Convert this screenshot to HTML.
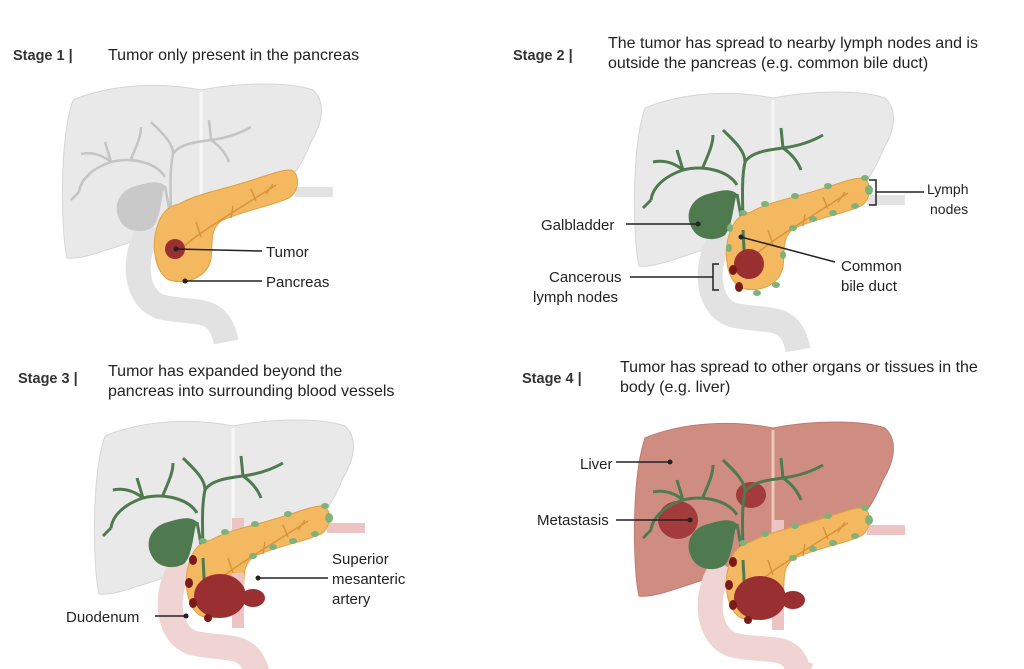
<!DOCTYPE html>
<html><head><meta charset="utf-8"><style>
html,body{margin:0;padding:0;background:#fff;}
svg{display:block}
text{font-family:"Liberation Sans",sans-serif;fill:#222;}
.t{font-size:16px}
.s{font-size:14.5px;font-weight:bold;fill:#333}
.l{font-size:15px}
</style></head><body>
<svg width="1024" height="669" viewBox="0 0 1024 669" xmlns="http://www.w3.org/2000/svg">
<defs>
<path id="liver" d="M12,18 C50,2 100,0 140,8 C180,0 230,0 252,8 C265,20 262,40 250,60 C240,85 225,108 205,114 L150,116 C120,125 95,150 70,160 C45,168 20,178 6,176 C0,150 -2,60 12,18 Z"/>
<path id="duo" d="M92,145 C72,165 70,215 100,225 C135,233 158,222 165,260" fill="none"/>
<path id="panc" d="M96,145 C100,130 108,124 118,122 C135,112 160,108 185,100 C205,94 218,88 230,88 C240,92 238,110 228,116 C210,124 185,128 162,138 C148,146 152,162 150,177 C146,196 125,203 108,198 C94,190 90,165 96,145 Z"/>
<path id="gb" d="M60,140 C50,125 58,108 75,104 C88,100 98,98 104,104 C100,115 100,135 92,145 C82,152 66,150 60,140 Z"/>
<path id="tree" d="M112,178 L110,140 C108,125 106,115 104,104 M110,140 C110,115 108,90 112,72 C118,62 135,60 150,58 M150,58 C165,56 178,52 190,45 M150,58 C160,65 165,72 168,80 M150,58 L148,38 M112,72 C112,60 100,50 90,40 M104,95 C95,80 70,75 50,80 C35,85 20,95 18,110 M50,80 C40,72 30,70 20,72 M50,80 L44,60 M18,110 L10,118 M70,77 C75,65 80,55 80,45" fill="none"/>
<path id="duct" d="M115,172 C130,155 160,138 215,103 M140,155 L135,140 M170,136 L172,124 M195,119 L190,107 M205,112 L212,102" fill="none"/>
</defs>

<!-- TITLES -->
<text class="s" x="13" y="60">Stage 1 |</text>
<text class="t" x="108" y="60">Tumor only present in the pancreas</text>
<text class="s" x="513" y="60">Stage 2 |</text>
<text class="t" x="608" y="48">The tumor has spread to nearby lymph nodes and is</text>
<text class="t" x="608" y="68">outside the pancreas (e.g. common bile duct)</text>
<text class="s" x="18" y="383">Stage 3 |</text>
<text class="t" x="108" y="376">Tumor has expanded beyond the</text>
<text class="t" x="108" y="396">pancreas into surrounding blood vessels</text>
<text class="s" x="522" y="383">Stage 4 |</text>
<text class="t" x="620" y="372">Tumor has spread to other organs or tissues in the</text>
<text class="t" x="620" y="392">body (e.g. liver)</text>

<!-- PANEL 1 -->
<g transform="translate(61,82)">
<use href="#liver" fill="#e9e9e9" stroke="#d6d6d6"/>
<path d="M140,10 L140,114" stroke="#f6f6f6" stroke-width="3"/>
<path d="M234,110 L272,110" stroke="#e3e3e3" stroke-width="10"/>
<use href="#duo" stroke="#e2e2e2" stroke-width="25"/>
<use href="#tree" stroke="#c4c4c4" stroke-width="2.5"/>
<use href="#gb" fill="#c9c9c9"/>
<use href="#panc" fill="#f3b860" stroke="#e0a044"/>
<use href="#duct" stroke="#d9943a" stroke-width="1.5"/>
<circle cx="114" cy="167" r="10" fill="#9a2f32"/>
</g>
<line x1="176" y1="249" x2="262" y2="251" stroke="#222" stroke-width="1.5"/>
<circle cx="176" cy="249" r="2.5" fill="#222"/>
<line x1="185" y1="281" x2="262" y2="281" stroke="#222" stroke-width="1.5"/>
<circle cx="185" cy="281" r="2.5" fill="#222"/>
<text class="l" x="266" y="257">Tumor</text>
<text class="l" x="266" y="287">Pancreas</text>

<!-- PANEL 2 -->
<g transform="translate(633,90)">
<use href="#liver" fill="#e9e9e9" stroke="#d6d6d6"/>
<path d="M140,10 L140,114" stroke="#f6f6f6" stroke-width="3"/>
<path d="M234,110 L272,110" stroke="#e3e3e3" stroke-width="10"/>
<use href="#duo" stroke="#e2e2e2" stroke-width="25"/>
<use href="#tree" stroke="#4f7a50" stroke-width="3"/>
<use href="#gb" fill="#4f7a50"/>
<use href="#panc" fill="#f3b860" stroke="#e0a044"/>
<use href="#duct" stroke="#d9943a" stroke-width="1.5"/>
<path d="M112,178 L110,140" stroke="#4f7a50" stroke-width="3"/>
<circle cx="116" cy="174" r="15" fill="#9a2f32"/>
<g fill="#7fb27a">
<ellipse cx="236" cy="100" rx="4" ry="5"/><ellipse cx="232" cy="88" rx="4" ry="3"/><ellipse cx="222" cy="116" rx="4" ry="3"/>
<ellipse cx="200" cy="123" rx="4" ry="3"/><ellipse cx="180" cy="129" rx="4" ry="3"/><ellipse cx="160" cy="138" rx="4" ry="3"/>
<ellipse cx="150" cy="165" rx="3" ry="4"/><ellipse cx="143" cy="195" rx="4" ry="3"/><ellipse cx="124" cy="203" rx="4" ry="3"/>
<ellipse cx="96" cy="158" rx="3" ry="4"/><ellipse cx="97" cy="138" rx="3" ry="4"/><ellipse cx="110" cy="123" rx="4" ry="3"/>
<ellipse cx="132" cy="114" rx="4" ry="3"/><ellipse cx="162" cy="106" rx="4" ry="3"/><ellipse cx="195" cy="96" rx="4" ry="3"/>
</g>
<ellipse cx="100" cy="180" rx="4" ry="5" fill="#7a1a1a"/><ellipse cx="106" cy="197" rx="4" ry="5" fill="#7a1a1a"/>
</g>
<text class="l" x="541" y="230">Galbladder</text>
<line x1="626" y1="224" x2="698" y2="224" stroke="#222" stroke-width="1.5"/><circle cx="698" cy="224" r="2.5" fill="#222"/>
<text class="l" x="549" y="282">Cancerous</text>
<text class="l" x="533" y="302">lymph nodes</text>
<line x1="630" y1="277" x2="713" y2="277" stroke="#222" stroke-width="1.5"/>
<path d="M719,264 L713,264 L713,290 L719,290" fill="none" stroke="#222" stroke-width="1.5"/>
<line x1="741" y1="237" x2="835" y2="262" stroke="#222" stroke-width="1.5"/><circle cx="741" cy="237" r="2.5" fill="#222"/>
<text class="l" x="841" y="271">Common</text>
<text class="l" x="841" y="291">bile duct</text>
<path d="M869,180 L876,180 L876,205 L869,205" fill="none" stroke="#222" stroke-width="1.5"/>
<line x1="876" y1="192" x2="924" y2="192" stroke="#222" stroke-width="1.5"/>
<text x="927" y="194" style="font-size:14px">Lymph</text>
<text x="930" y="214" style="font-size:14px">nodes</text>

<!-- PANEL 3 -->
<g transform="translate(93,418)">
<use href="#liver" fill="#e9e9e9" stroke="#d6d6d6"/>
<path d="M140,10 L140,114" stroke="#f6f6f6" stroke-width="3"/>
<path d="M234,110 L272,110" stroke="#ecc4c4" stroke-width="10"/>
<path d="M145,100 L145,210" stroke="#ecc4c4" stroke-width="12"/>
<use href="#duo" stroke="#f0d3d3" stroke-width="25"/>
<use href="#tree" stroke="#4f7a50" stroke-width="3"/>
<use href="#gb" fill="#4f7a50"/>
<use href="#panc" fill="#f3b860" stroke="#e0a044"/>
<use href="#duct" stroke="#d9943a" stroke-width="1.5"/>
<path d="M145,155 L145,190" stroke="#ecc4c4" stroke-width="12"/>
<path d="M112,178 L110,140" stroke="#4f7a50" stroke-width="3"/>
<ellipse cx="127" cy="178" rx="26" ry="22" fill="#9a2f32"/>
<ellipse cx="160" cy="180" rx="12" ry="9" fill="#9a2f32"/>
<g fill="#7fb27a">
<ellipse cx="236" cy="100" rx="4" ry="5"/><ellipse cx="232" cy="88" rx="4" ry="3"/><ellipse cx="222" cy="116" rx="4" ry="3"/>
<ellipse cx="200" cy="123" rx="4" ry="3"/><ellipse cx="180" cy="129" rx="4" ry="3"/><ellipse cx="160" cy="138" rx="4" ry="3"/>
<ellipse cx="110" cy="123" rx="4" ry="3"/><ellipse cx="132" cy="114" rx="4" ry="3"/><ellipse cx="162" cy="106" rx="4" ry="3"/><ellipse cx="195" cy="96" rx="4" ry="3"/>
</g>
<g fill="#7a1a1a"><ellipse cx="100" cy="142" rx="4" ry="5"/><ellipse cx="96" cy="165" rx="4" ry="5"/><ellipse cx="100" cy="185" rx="4" ry="5"/><ellipse cx="115" cy="200" rx="4" ry="4"/></g>
</g>
<line x1="258" y1="578" x2="328" y2="578" stroke="#222" stroke-width="1.5"/><circle cx="258" cy="578" r="2.5" fill="#222"/>
<text class="l" x="332" y="564">Superior</text>
<text class="l" x="332" y="584">mesanteric</text>
<text class="l" x="332" y="604">artery</text>
<text class="l" x="66" y="622">Duodenum</text>
<line x1="155" y1="616" x2="186" y2="616" stroke="#222" stroke-width="1.5"/><circle cx="186" cy="616" r="2.5" fill="#222"/>

<!-- PANEL 4 -->
<g transform="translate(633,420)">
<use href="#liver" fill="#cf8d82" stroke="#c07b70"/>
<path d="M140,10 L140,114" stroke="#ecc9b8" stroke-width="3"/>
<path d="M234,110 L272,110" stroke="#ecc4c4" stroke-width="10"/>
<path d="M145,100 L145,210" stroke="#ecc4c4" stroke-width="12"/>
<path d="M92,145 C72,165 70,215 100,225 C135,233 158,222 165,250 L168,240" fill="none" stroke="#f0d3d3" stroke-width="25"/>
<ellipse cx="45" cy="100" rx="20" ry="19" fill="#a33a3c"/>
<ellipse cx="118" cy="75" rx="15" ry="13" fill="#a33a3c"/>
<use href="#tree" stroke="#4f7a50" stroke-width="3"/>
<use href="#gb" fill="#4f7a50"/>
<use href="#panc" fill="#f3b860" stroke="#e0a044"/>
<use href="#duct" stroke="#d9943a" stroke-width="1.5"/>
<path d="M112,178 L110,140" stroke="#4f7a50" stroke-width="3"/>
<ellipse cx="127" cy="178" rx="26" ry="22" fill="#9a2f32"/>
<ellipse cx="160" cy="180" rx="12" ry="9" fill="#9a2f32"/>
<g fill="#7fb27a">
<ellipse cx="236" cy="100" rx="4" ry="5"/><ellipse cx="232" cy="88" rx="4" ry="3"/><ellipse cx="222" cy="116" rx="4" ry="3"/>
<ellipse cx="200" cy="123" rx="4" ry="3"/><ellipse cx="180" cy="129" rx="4" ry="3"/><ellipse cx="160" cy="138" rx="4" ry="3"/>
<ellipse cx="110" cy="123" rx="4" ry="3"/><ellipse cx="132" cy="114" rx="4" ry="3"/><ellipse cx="162" cy="106" rx="4" ry="3"/><ellipse cx="195" cy="96" rx="4" ry="3"/>
</g>
<g fill="#7a1a1a"><ellipse cx="100" cy="142" rx="4" ry="5"/><ellipse cx="96" cy="165" rx="4" ry="5"/><ellipse cx="100" cy="185" rx="4" ry="5"/><ellipse cx="115" cy="200" rx="4" ry="4"/></g>
</g>
<text class="l" x="580" y="469">Liver</text>
<line x1="616" y1="462" x2="670" y2="462" stroke="#222" stroke-width="1.5"/><circle cx="670" cy="462" r="2.5" fill="#222"/>
<text class="l" x="537" y="525">Metastasis</text>
<line x1="616" y1="520" x2="690" y2="520" stroke="#222" stroke-width="1.5"/><circle cx="690" cy="520" r="2.5" fill="#222"/>
</svg>
</body></html>
